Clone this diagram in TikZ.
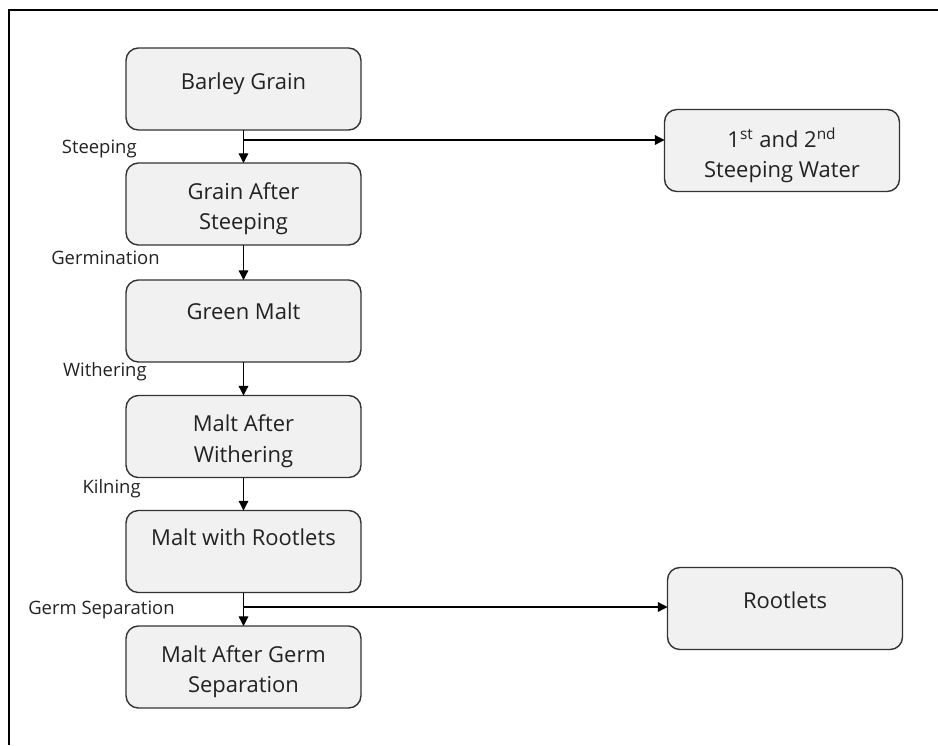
\documentclass[tikz,border=0pt]{standalone}
\usepackage{fontspec}
\setmainfont{Open Sans}
\usetikzlibrary{arrows.meta,calc}

\definecolor{boxfill}{HTML}{F1F1F1}
\definecolor{boxline}{HTML}{333333}
\definecolor{textgray}{HTML}{222222}

\tikzset{
	stagebox/.style = {draw = boxline, fill = boxfill, rounded corners = 7pt, line width = 0.8pt, minimum width = 4.7cm, minimum height = 1.64cm, inner sep = 0pt, outer sep = 0pt},
	stagetext/.style = {anchor = north, align = center, inner sep = 0pt, text = textgray, font = \fontsize{12.5}{17.5}\selectfont},
	steplabel/.style = {anchor = east, inner sep = 0pt, text = textgray, font = \fontsize{10.5}{12}\selectfont},
}

\begin{document}
\begin{tikzpicture}[x = 0.02cm, y = -0.02cm, >={Triangle[length = 5.5pt, width = 5.5pt]}]
	%	frame
	\useasboundingbox (0, 0) rectangle (938, 745);
	\draw[line width = 1pt] (9, 745) -- (9, 10) -- (938, 10);
	
	%	main column
	\def\cx{243.5}
	\node[stagebox] (barley) at (\cx, 89) {};
	\node[stagebox] (steeped) at (\cx, 204) {};
	\node[stagebox] (green) at (\cx, 321) {};
	\node[stagebox] (withered) at (\cx, 436.5) {};
	\node[stagebox] (kilned) at (\cx, 551.5) {};
	\node[stagebox] (separated) at (\cx, 667) {};
	
	%	side boxes
	\node[stagebox] (water) at (782, 150.5) {};
	\node[stagebox] (rootlets) at (785, 608.5) {};
	
	%	box texts
	\node[stagetext] (barleytxt) at ($(barley.north) + (0, 24)$) {Barley Grain};
	\node[stagetext] (steepedtxt) at ($(steeped.north) + (0, 19)$) {Grain After\\Steeping};
	\node[stagetext] (greentxt) at ($(green.north) + (0, 22)$) {Green Malt};
	\node[stagetext] (witheredtxt) at ($(withered.north) + (0, 19)$) {Malt After\\Withering};
	\node[stagetext] (kilnedtxt) at ($(kilned.north) + (0, 18)$) {Malt with Rootlets};
	\node[stagetext] (separatedtxt) at ($(separated.north) + (0, 19)$) {Malt After Germ\\Separation};
	\node[stagetext] (watertxt) at ($(water.north) + (0, 18)$) {1\textsuperscript{st} and 2\textsuperscript{nd}\\Steeping Water};
	\node[stagetext] (rootletstxt) at ($(rootlets.north) + (0, 24)$) {Rootlets};
	
	%	process steps
	\node[steplabel] (steeping) at (137, 149) {Steeping};
	\node[steplabel] (germination) at (160, 258) {Germination};
	\node[steplabel] (withering) at (147, 372) {Withering};
	\node[steplabel] (kilning) at (141, 489) {Kilning};
	\node[steplabel] (germsep) at (175, 610) {Germ Separation};
	
	%	arrows
	\draw[->, line width = 0.7pt] (barley) -- (steeped);
	\draw[->, line width = 0.7pt] (steeped) -- (green);
	\draw[->, line width = 0.7pt] (green) -- (withered);
	\draw[->, line width = 0.7pt] (withered) -- (kilned);
	\draw[->, line width = 0.7pt] (kilned) -- (separated);
	
	%	side streams
	\coordinate (split1) at (\cx, 140);
	\coordinate (split2) at (\cx, 607);
	\draw[->, line width = 0.7pt] (split1) -- (split1 -| water.west);
	\draw[->, line width = 0.7pt] (split2) -- (split2 -| rootlets.west);
\end{tikzpicture}
\end{document}
